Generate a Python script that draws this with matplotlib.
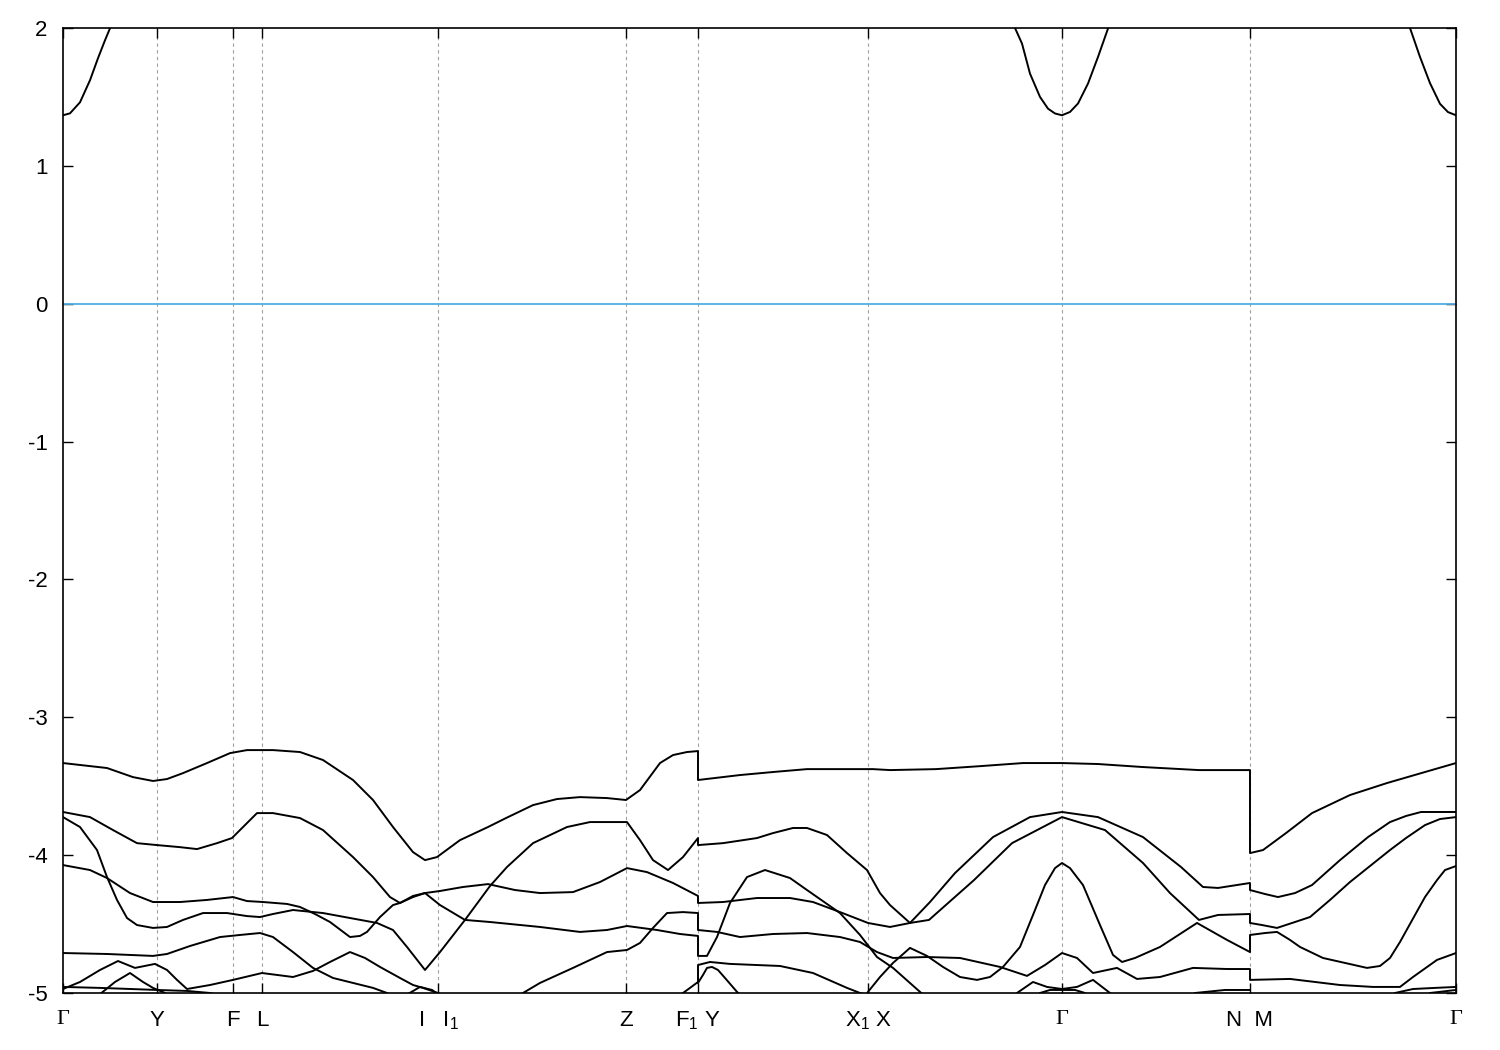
import matplotlib
matplotlib.use('Agg')
import matplotlib.pyplot as plt

plt.rcParams['font.family'] = ['Liberation Sans', 'DejaVu Sans']
plt.rcParams['mathtext.fontset'] = 'custom'
plt.rcParams['mathtext.rm'] = 'Liberation Sans'
plt.rcParams['axes.unicode_minus'] = False

# high-symmetry points (path length units) and labels
kpts = [0, 0.94, 1.70, 1.99, 3.75, 5.63, 6.35, 8.05, 9.99, 11.87, 13.93]
klabels = ['Γ', 'Y', 'F', 'L', r'I   $\mathregular{I_1}$', 'Z',
           r'$\mathregular{F_1}$ Y', r'$\mathregular{X_1}$ X', 'Γ', 'N  M', 'Γ']
yticks = [-5, -4, -3, -2, -1, 0, 1, 2]
ylabels = ['-5', '-4', '-3', '-2', '-1', '0', '1', '2']

# conduction bands
k_c1 = [0, 0.07, 0.17, 0.27, 0.35, 0.42, 0.47, 0.50]
e_c1 = [1.367, 1.381, 1.461, 1.621, 1.781, 1.911, 1.998, 2.05]
k_c2 = [9.49, 9.52, 9.59, 9.67, 9.77, 9.85, 9.92, 9.99, 10.07, 10.15, 10.25, 10.35, 10.45, 10.48]
e_c2 = [2.05, 2.0, 1.887, 1.669, 1.50, 1.415, 1.38, 1.367, 1.391, 1.452, 1.597, 1.79, 1.996, 2.05]
k_c3 = [13.45, 13.47, 13.57, 13.67, 13.77, 13.85, 13.93]
e_c3 = [2.05, 2.0, 1.79, 1.60, 1.45, 1.39, 1.367]

# valence bands
k_v1 = [0, 0.44, 0.70, 0.90, 1.04, 1.20, 1.44, 1.67, 1.84, 2.10, 2.37, 2.60, 2.90, 3.10, 3.30,
        3.50, 3.62, 3.74, 3.97, 4.25, 4.43, 4.70, 4.94, 5.17, 5.44, 5.63, 5.77, 5.97, 6.10, 6.24,
        6.35, 6.35, 6.77, 7.10, 7.44, 7.77, 8.10, 8.27, 8.73, 9.18, 9.60, 9.99, 10.35, 10.80,
        11.36, 11.87, 11.87, 12.00, 12.23, 12.49, 12.87, 13.24, 13.62, 13.93]
e_v1 = [-3.332, -3.368, -3.434, -3.462, -3.448, -3.405, -3.332, -3.260, -3.238, -3.238, -3.252,
        -3.310, -3.455, -3.600, -3.796, -3.978, -4.036, -4.014, -3.891, -3.796, -3.731, -3.637,
        -3.593, -3.579, -3.586, -3.600, -3.528, -3.332, -3.274, -3.252, -3.245, -3.455, -3.419,
        -3.397, -3.376, -3.376, -3.376, -3.383, -3.376, -3.354, -3.332, -3.332, -3.339, -3.361,
        -3.383, -3.383, -3.985, -3.963, -3.840, -3.695, -3.564, -3.477, -3.397, -3.332]

k_v2 = [0, 0.17, 0.34, 0.44, 0.54, 0.64, 0.74, 0.90, 1.04, 1.20, 1.40, 1.64, 1.84, 1.97, 2.10,
        2.30, 2.60, 2.87, 3.14, 3.30, 3.44, 3.62, 3.77, 4.02, 4.27, 4.44, 4.70, 5.04, 5.27, 5.64,
        5.77, 5.90, 6.05, 6.20, 6.35, 6.35, 6.60, 6.94, 7.10, 7.30, 7.44, 7.64, 7.84, 8.04, 8.17,
        8.27, 8.47, 8.67, 8.92, 9.30, 9.67, 9.99, 10.35, 10.80, 11.18, 11.40, 11.55, 11.87,
        11.87, 12.02, 12.15, 12.32, 12.49, 12.77, 13.05, 13.27, 13.43, 13.58, 13.77, 13.93]
e_v2 = [-3.724, -3.796, -3.963, -4.159, -4.325, -4.456, -4.507, -4.528, -4.521, -4.470, -4.420,
        -4.420, -4.442, -4.449, -4.427, -4.398, -4.420, -4.456, -4.492, -4.543, -4.666, -4.833,
        -4.703, -4.470, -4.224, -4.086, -3.913, -3.796, -3.760, -3.760, -3.891, -4.036, -4.108,
        -4.014, -3.876, -3.927, -3.913, -3.876, -3.840, -3.803, -3.803, -3.854, -3.985, -4.108,
        -4.275, -4.362, -4.492, -4.340, -4.130, -3.869, -3.724, -3.687, -3.724, -3.869, -4.086,
        -4.231, -4.238, -4.202, -4.253, -4.282, -4.304, -4.275, -4.217, -4.036, -3.869, -3.760,
        -3.716, -3.687, -3.687, -3.687]

k_v3 = [0, 0.27, 0.50, 0.74, 0.94, 1.17, 1.34, 1.54, 1.69, 1.77, 1.94, 2.10, 2.37, 2.60, 2.90,
        3.10, 3.27, 3.37, 3.50, 3.62, 3.77, 4.00, 4.25, 4.52, 4.77, 5.10, 5.37, 5.64, 5.84, 6.10,
        6.35, 6.35, 6.60, 6.94, 7.27, 7.50, 7.77, 8.05, 8.27, 8.47, 8.66, 9.11, 9.49, 9.99, 10.42,
        10.80, 11.07, 11.36, 11.55, 11.87, 11.87, 11.99, 12.14, 12.32, 12.47, 12.67, 12.87, 13.07,
        13.27, 13.43, 13.62, 13.77, 13.93]
e_v3 = [-3.687, -3.724, -3.818, -3.913, -3.927, -3.942, -3.956, -3.913, -3.876, -3.818, -3.695,
        -3.695, -3.731, -3.818, -4.014, -4.159, -4.304, -4.347, -4.296, -4.275, -4.260, -4.231,
        -4.210, -4.253, -4.275, -4.268, -4.195, -4.094, -4.123, -4.202, -4.296, -4.347, -4.340,
        -4.311, -4.311, -4.340, -4.413, -4.492, -4.521, -4.492, -4.470, -4.181, -3.913, -3.724,
        -3.818, -4.057, -4.275, -4.470, -4.434, -4.427, -4.492, -4.507, -4.528, -4.485, -4.449,
        -4.325, -4.195, -4.079, -3.963, -3.876, -3.782, -3.738, -3.724]

k_v4 = [4.52, 4.60, 4.77, 5.10, 5.44, 5.64, 5.77, 5.90, 6.04, 6.20, 6.35, 6.35, 6.54, 6.77, 7.10,
        7.44, 7.77, 7.97, 8.14, 8.30, 8.64, 8.97, 9.37, 9.64, 9.82, 9.99, 10.14, 10.30, 10.54,
        10.74, 10.97, 11.30, 11.64, 11.87, 11.87, 12.27, 12.77, 13.10, 13.37, 13.50, 13.74, 13.93]
e_v4 = [-5.04, -5.0, -4.927, -4.818, -4.703, -4.688, -4.637, -4.528, -4.420, -4.413, -4.420,
        -4.543, -4.557, -4.594, -4.572, -4.565, -4.594, -4.630, -4.703, -4.746, -4.739, -4.746,
        -4.811, -4.876, -4.797, -4.710, -4.746, -4.855, -4.818, -4.898, -4.884, -4.818, -4.826,
        -4.826, -4.905, -4.898, -4.942, -4.956, -4.956, -4.884, -4.760, -4.710]

k_v5 = [0, 0.27, 0.44, 0.67, 0.90, 1.17, 1.44, 1.70, 1.84, 2.00, 2.24, 2.37, 2.52, 2.67, 2.87,
        2.97, 3.04, 3.17, 3.30, 3.37, 3.50, 3.62, 3.77, 4.02, 4.27, 4.77, 5.17, 5.44, 5.64, 5.94,
        6.17, 6.35, 6.35, 6.44, 6.54, 6.67, 6.84, 7.02, 7.27, 7.44, 7.77, 7.97, 8.14, 8.30, 8.57,
        8.63]
e_v5 = [-4.072, -4.108, -4.166, -4.275, -4.340, -4.340, -4.325, -4.304, -4.333, -4.340, -4.354,
        -4.376, -4.427, -4.485, -4.594, -4.586, -4.557, -4.449, -4.362, -4.347, -4.304, -4.275,
        -4.362, -4.470, -4.485, -4.521, -4.557, -4.543, -4.514, -4.543, -4.572, -4.586, -4.731,
        -4.731, -4.594, -4.347, -4.159, -4.108, -4.166, -4.253, -4.420, -4.579, -4.739, -4.818,
        -4.992, -5.03]

k_v6 = [6.20, 6.27, 6.35, 6.35, 6.47, 6.67, 7.17, 7.50, 7.84, 7.97, 8.02]
e_v6 = [-5.0, -4.963, -4.920, -4.797, -4.775, -4.789, -4.804, -4.855, -4.963, -5.0, -5.01]

k_v7 = [6.35, 6.40, 6.44, 6.49, 6.55, 6.62, 6.74, 6.77]
e_v7 = [-4.927, -4.869, -4.818, -4.811, -4.833, -4.891, -4.992, -5.01]

k_v8 = [8.03, 8.05, 8.17, 8.30, 8.47, 8.64, 8.80, 8.97, 9.14, 9.27, 9.40, 9.57, 9.70, 9.82, 9.92,
        9.99, 10.07, 10.20, 10.37, 10.50, 10.59, 10.72, 10.97, 11.34, 11.64, 11.87, 11.87, 12.02,
        12.14, 12.27, 12.37, 12.60, 12.82, 13.04, 13.17, 13.27, 13.37, 13.52, 13.62, 13.74, 13.82,
        13.93]
e_v8 = [-5.02, -4.992, -4.884, -4.782, -4.673, -4.731, -4.811, -4.884, -4.905, -4.884, -4.811,
        -4.666, -4.434, -4.217, -4.094, -4.057, -4.094, -4.217, -4.507, -4.724, -4.775, -4.746,
        -4.666, -4.492, -4.615, -4.703, -4.579, -4.565, -4.557, -4.615, -4.666, -4.746, -4.782,
        -4.818, -4.804, -4.746, -4.630, -4.434, -4.304, -4.181, -4.108, -4.079]

k_v9 = [0, 0.44, 0.90, 1.04, 1.27, 1.57, 1.77, 1.97, 2.10, 2.30, 2.50, 2.70, 2.90, 3.10, 3.24, 3.29]
e_v9 = [-4.710, -4.717, -4.731, -4.717, -4.659, -4.594, -4.579, -4.565, -4.594, -4.703, -4.818,
        -4.891, -4.927, -4.963, -5.0, -5.02]

k_v10 = [0, 0.17, 0.37, 0.55, 0.72, 0.92, 1.04, 1.14, 1.24, 1.47, 1.70, 1.99, 2.30, 2.50, 2.67,
         2.87, 3.02, 3.17, 3.37, 3.50, 3.60, 3.75, 3.79]
e_v10 = [-4.971, -4.920, -4.833, -4.768, -4.818, -4.789, -4.833, -4.905, -4.971, -4.942, -4.905,
         -4.855, -4.884, -4.840, -4.775, -4.703, -4.746, -4.811, -4.891, -4.942, -4.963, -5.0, -5.02]

k_v11 = [0.35, 0.52, 0.67, 0.80, 0.90, 1.02, 1.07]
e_v11 = [-5.02, -4.920, -4.855, -4.920, -4.963, -5.0, -5.02]

k_v12 = [0, 0.37, 0.94, 1.24, 1.47, 1.57]
e_v12 = [-4.956, -4.963, -4.978, -4.985, -5.0, -5.02]

k_v13 = [3.42, 3.57, 3.69, 3.77]
e_v13 = [-5.02, -4.956, -4.978, -5.02]

k_v14 = [9.51, 9.54, 9.70, 9.84, 9.99, 10.14, 10.30, 10.47, 10.50]
e_v14 = [-5.02, -5.0, -4.920, -4.956, -4.971, -4.956, -4.905, -5.0, -5.02]

k_v15 = [9.77, 9.87, 9.99, 10.12, 10.22]
e_v15 = [-5.0, -4.978, -4.978, -4.978, -5.0]

k_v16 = [11.32, 11.62, 11.87]
e_v16 = [-5.0, -4.978, -4.978]

k_v17 = [13.32, 13.50, 13.72, 13.93]
e_v17 = [-5.0, -4.971, -4.963, -4.956]

k_v18 = [13.67, 13.93]
e_v18 = [-5.0, -4.978]

bands = [(k_c1, e_c1), (k_c2, e_c2), (k_c3, e_c3),
         (k_v1, e_v1), (k_v2, e_v2), (k_v3, e_v3), (k_v4, e_v4), (k_v5, e_v5),
         (k_v6, e_v6), (k_v7, e_v7), (k_v8, e_v8), (k_v9, e_v9), (k_v10, e_v10),
         (k_v11, e_v11), (k_v12, e_v12), (k_v13, e_v13), (k_v14, e_v14), (k_v15, e_v15),
         (k_v16, e_v16), (k_v17, e_v17), (k_v18, e_v18)]

fig = plt.figure(figsize=(15, 10.5), dpi=100)
ax = fig.add_axes([63 / 1500, 1 - 993 / 1050, (1456 - 63) / 1500, (993 - 28) / 1050])

for kp in kpts[1:-1]:
    ax.axvline(kp, color='#a0a0a0', lw=0.8, ls=(0, (3, 3)), zorder=1)

ax.axhline(0, color='#4fb0e0', lw=1.3, zorder=2)

for k, e in bands:
    ax.plot(k, e, color='black', lw=1.4, solid_joinstyle='round', zorder=3)

ax.set_xlim(kpts[0], kpts[-1])
ax.set_ylim(-5, 2)
ax.set_xticks(kpts)
xl = ax.set_xticklabels(klabels)
for t in xl:
    if t.get_text() == 'Γ':
        t.set_fontfamily(['Liberation Serif', 'DejaVu Serif'])
        t.set_fontsize(17)
ax.set_yticks(yticks)
ax.set_yticklabels(ylabels)
ax.tick_params(direction='in', top=True, right=True, length=7, width=1.0,
               labelsize=16, colors='black')
ax.tick_params(axis='x', pad=12)
ax.tick_params(axis='y', pad=11)
for s in ax.spines.values():
    s.set_linewidth(1.2)

fig.savefig('out.png', dpi=100)
